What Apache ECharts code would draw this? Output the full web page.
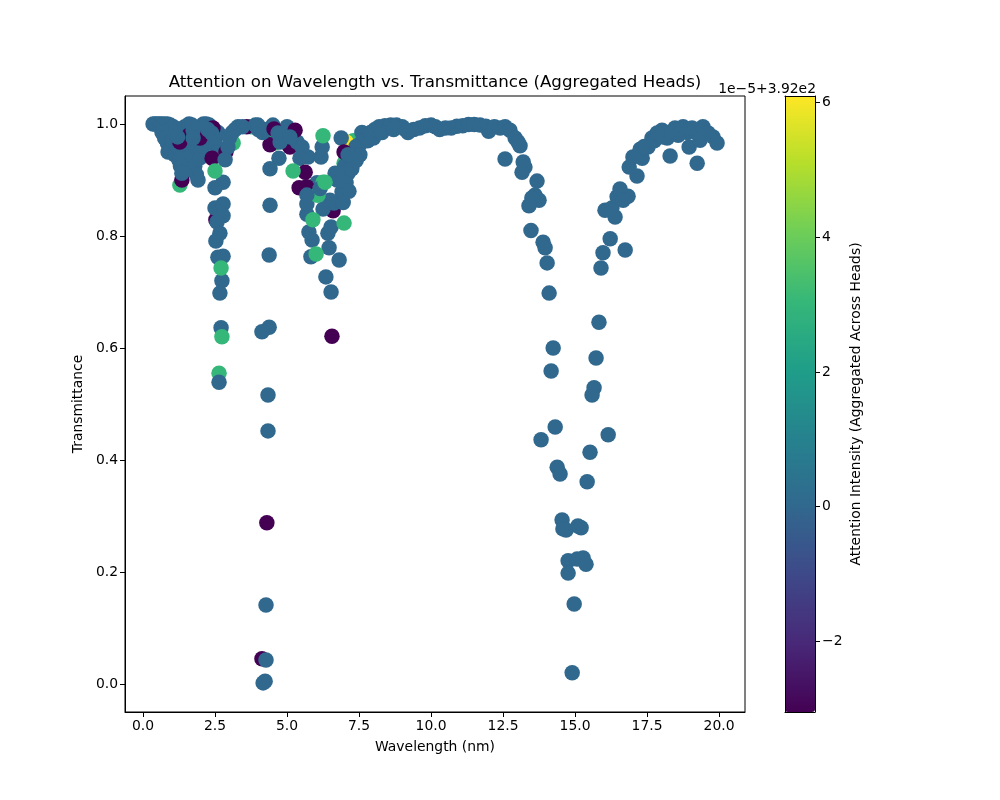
<!DOCTYPE html>
<html><head><meta charset="utf-8">
<script src="https://cdn.jsdelivr.net/npm/echarts@6/dist/echarts.min.js"></script>
<style>html,body{margin:0;background:#fff}#c{width:1000px;height:800px}</style></head>
<body><div id="c"></div><script>
const xTicks=[0,2.5,5,7.5,10,12.5,15,17.5,20];
const yTicks=[0,0.2,0.4,0.6,0.8,1];
const barTicks=[-2,0,2,4,6];
const viridis=['#440154','#482878','#3e4989','#31688e','#26828e','#1f9e89','#35b779','#6ece58','#b5de2b','#fde725'];
const attentionRange=[-3.05,6.1];
const darkAttention=-3.05, mainAttention=0, greenAttention=3.05, yellowAttention=6.1;
const greenBehind=[[1.28,.891],[1.35,.925],[1.63,.987],[1,.985],[1.7,.975],[2.64,.555],[3.75,.995],[4.58,.966],[4.93,.968],[4.35,.985],[7.3,.97],[6.98,.93],[7.12,.935]];
const yellowBehind=[[7.05,.968],[1.2,.975]];
const darkBehind=[[2.3,.985],[2.53,.829],[1.7,.955],[4.41,.963],[5.1,.959],[6.6,.845],[3.6,.995],[4.13,.045]];
const mainPoints=[[.35,1],[.42,1],[.5,1],[.58,1],[.65,1],[.75,1],[.85,1],[.95,.998],[1.05,.995],[1.15,.99],[1.3,.99],[1.45,.995],[1.6,1],[1.7,.998],[1.85,.99],[2,.995],[2.1,1],[2.2,1],[2.3,.998],
[.66,.985],[.75,.975],[.85,.965],[.87,.95],[.95,.955],[1,.97],[1.1,.945],[1.2,.96],[1.25,.935],[1.3,.925],[1.4,.93],[1.45,.95],[1.5,.96],[1.55,.935],[1.6,.92],[1.7,.945],[1.8,.925],[1.85,.91],[1.91,.9],[1.75,.965],[1.9,.955],[2,.94],[2.1,.96],[2.2,.975],[2.3,.97],[2.5,.975],[2.6,.985],[2.55,.96],[2.6,.95],
[3.2,.99],[3.3,.995],[3.45,.995],[3.9,.998],[4,.99],[4.15,.985],[4.3,.99],[3.99,.998],[4.51,.998],[5,.995],[5.35,.968],[5.52,.959],[4.76,.968],[4.72,.939],[4.41,.92],[4.41,.855],[4.38,.766],[4.38,.637],[4.13,.629],[4.34,.516],[4.34,.452],[4.27,.141],[4.27,.043],[4.24,.005],[4.17,.002],
[2.78,.896],[2.5,.886],[2.5,.85],[2.78,.857],[2.78,.836],[2.57,.825],[2.67,.805],[2.53,.791],[2.6,.762],[2.78,.764],[2.74,.72],[2.67,.698],[2.71,.636],[2.64,.539],
[5.73,.941],[5.45,.939],[6.22,.959],[6.18,.941],[6.88,.975],[6.53,.7],[6.35,.727],[6.81,.757],[6.46,.779],[5.83,.763],[5.87,.793],[5.76,.807],[6.42,.805],[6.53,.816],[6.25,.848],[5.69,.839],[5.69,.857],[6.63,.859],[6.91,.879],[6.49,.864],[6.04,.895],[6.74,.9],[6.67,.912],[7.12,.912],[7,.925],[7.2,.94],[7.05,.895],[7.3,.945],[7.4,.96],[7.55,.965],[7.7,.975],[7.53,.945],[7.25,.92],[7.4,.935],[7.15,.88],[6.95,.86],[7.8,.97],[8,.975],
[7.6,.985],[7.78,.975],[7.9,.985],[8.05,.99],[8.2,.995],[8.4,.997],[8.6,.998],[8.8,.998],[9,.995],[9.2,.985],[9.4,.99],[9.6,.993],[9.8,.997],[10,.998],[10.15,.995],[10.3,.99],[10.5,.993],[10.7,.993],[10.9,.996],[11.1,.997],[11.3,.999],[11.5,.999],[11.7,.998],[11.9,.996],[12,.987],[12.2,.995],[12.4,.993],[12.57,.995],[12.74,.989],[12.92,.975],[13.02,.968],[13.09,.961],[8.3,.985],[8.7,.99],[9.1,.99],
[12.57,.9375],[13.2,.932],[13.26,.923],[13.16,.914],[13.68,.898],[13.61,.873],[13.75,.864],[13.5,.868],[13.4,.854],[13.47,.81],[13.89,.789],[13.96,.779],[14.03,.752],[14.1,.698],[14.24,.6],[14.17,.559],[14.31,.459],[13.82,.436],[14.38,.387],[14.48,.375],[14.55,.293],[14.58,.277],[14.69,.275],[15.1,.282],[15.21,.279],[14.76,.22],[15.07,.223],[15.28,.225],[15.38,.214],[14.76,.198],[14.97,.143],[14.9,.02],
[15.83,.646],[15.73,.582],[15.66,.529],[15.59,.516],[16.15,.445],[15.52,.414],[15.42,.361],[15.9,.743],[15.97,.77],[16.74,.775],[16.22,.795],[16.39,.834],[16.04,.846],[16.28,.85],[16.46,.87],[16.84,.871],[16.56,.884],[16.67,.864],[17.15,.907],[16.88,.923],[17.01,.941],[17.33,.939],[17.26,.955],[17.53,.959],[17.67,.975],[17.4,.96],[17.75,.97],[17.95,.98],[18.2,.975],[18.3,.985],[18.9,.985],[19.2,.985],[18.3,.943],[18.05,.977],[18.02,.989],[17.85,.984],[18.47,.993],[18.58,.98],[18.75,.995],[18.96,.959],[19.06,.993],[19.24,.93],[19.44,.995],[19.34,.971],[19.62,.984],[19.79,.977],[19.93,.966]];
const darkMiddle=[[1.28,.968],[1.6,.98],[1.98,.975],[2.43,.993],[2.4,.939],[2.88,.95],[1.35,.9],[4.55,.991],[5.28,.989],[6.98,.95],[5.42,.886],[5.68,.888]];
const greenMiddle=[[3.13,.966],[6.04,.873],[6.25,.896],[6.08,.873]];
const mainTop=[[1.35,.912],[1.2,.977],[1.74,.989],[1.74,.975],[2.38,.984],[2.25,.99],[2.95,.959],[2.85,.936],[3,.975],[3.1,.985],[4.69,.984],[5.1,.977],[7.12,.945],[5.69,.873],[6.15,.885]];
const darkFront=[[5.63,.914],[4.3,.288],[6.56,.621]];
const greenFront=[[2.5,.916],[2.71,.743],[2.74,.62],[6.25,.979],[6.98,.823],[5.9,.829],[6.01,.768],[5.21,.916],[6.32,.896]];

const tag=(list,a)=>list.map(p=>[p[0],p[1],a]);
const allPoints=[].concat(tag(greenBehind,greenAttention),tag(yellowBehind,yellowAttention),tag(darkBehind,darkAttention),tag(mainPoints,mainAttention),tag(darkMiddle,darkAttention),tag(greenMiddle,greenAttention),tag(mainTop,mainAttention),tag(darkFront,darkAttention),tag(greenFront,greenAttention));
const font='DejaVu Sans';
const tickOpts=(vals,fmt)=>({axisTick:{show:true,length:5,lineStyle:{color:'#000',width:1},customValues:vals},axisLabel:{show:true,color:'#000',fontFamily:font,fontSize:13.9,margin:7,customValues:vals,formatter:fmt}});
const f1=v=>(+v).toFixed(1);
const frameLine={show:true,onZero:false,lineStyle:{color:'#000'}};
const chart=echarts.init(document.getElementById('c'),null,{renderer:'canvas'});
chart.setOption({
 animation:false,backgroundColor:'#fff',
 title:[
  {text:'Attention on Wavelength vs. Transmittance (Aggregated Heads)',left:430,top:69,textAlign:'center',textStyle:{fontFamily:font,fontSize:16.67,fontWeight:'normal',color:'#000'}},
  {text:'1e\u22125+3.92e2',left:811,top:77,textAlign:'right',textStyle:{fontFamily:font,fontSize:13.9,fontWeight:'normal',color:'#000'}}
 ],
 grid:[
  {left:125,top:96,width:620,height:616,show:true,borderColor:'#000',borderWidth:1,backgroundColor:'#fff'},
  {left:785,top:96,width:30,height:616,show:false}
 ],
 xAxis:[
  Object.assign({type:'value',gridIndex:0,min:-0.625,max:20.9,splitLine:{show:false},axisLine:frameLine,name:'Wavelength (nm)',nameLocation:'middle',nameGap:28,nameTextStyle:{fontFamily:font,fontSize:13.9,color:'#000'}},tickOpts(xTicks,f1)),
  {type:'value',gridIndex:1,min:0,max:1,position:'bottom',z:10,splitLine:{show:false},axisTick:{show:false},axisLabel:{show:false},axisLine:frameLine},
  {type:'value',gridIndex:1,min:0,max:1,position:'top',z:10,splitLine:{show:false},axisTick:{show:false},axisLabel:{show:false},axisLine:frameLine}
 ],
 yAxis:[
  Object.assign({type:'value',gridIndex:0,min:-0.05,max:1.05,splitLine:{show:false},axisLine:frameLine,name:'Transmittance',nameLocation:'middle',nameGap:34,nameTextStyle:{fontFamily:font,fontSize:13.9,color:'#000'}},tickOpts(yTicks,f1)),
  Object.assign({type:'value',gridIndex:1,min:attentionRange[0],max:attentionRange[1],position:'right',z:10,splitLine:{show:false},axisLine:frameLine,name:'Attention Intensity (Aggregated Across Heads)',nameLocation:'middle',nameGap:34,nameRotate:90,nameTextStyle:{fontFamily:font,fontSize:13.9,color:'#000'}},tickOpts(barTicks,v=>String(v).replace('-','\u2212'))),
  {type:'value',gridIndex:1,min:0,max:1,position:'left',z:10,splitLine:{show:false},axisTick:{show:false},axisLabel:{show:false},axisLine:frameLine}
 ],
 visualMap:{type:'continuous',min:attentionRange[0],max:attentionRange[1],dimension:2,seriesIndex:0,left:785,top:96,padding:0,itemWidth:30,itemHeight:616,text:null,calculable:false,showLabel:false,hoverLink:false,inRange:{color:viridis}},
 series:[{type:'scatter',xAxisIndex:0,yAxisIndex:0,symbol:'circle',symbolSize:15.5,data:allPoints,itemStyle:{opacity:1},emphasis:{disabled:true}}]
});
</script></body></html>
